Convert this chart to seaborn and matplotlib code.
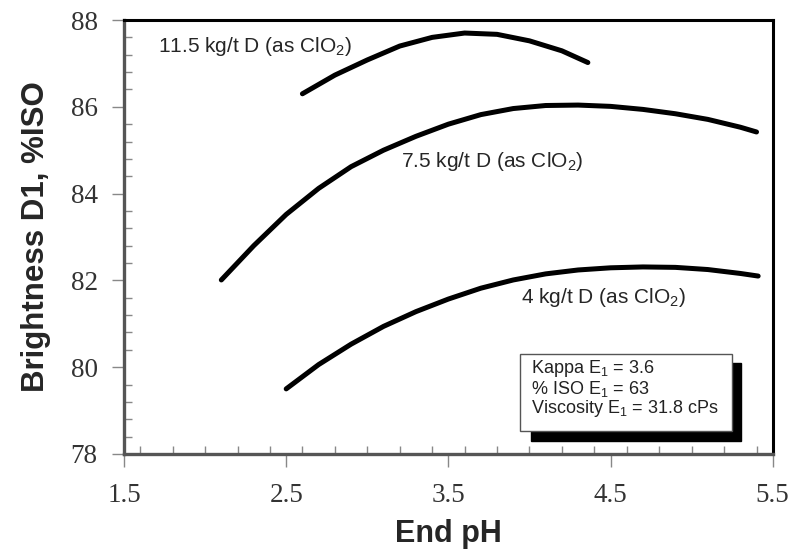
import matplotlib
matplotlib.use("Agg")
import matplotlib.pyplot as plt
from matplotlib.patches import Rectangle
from matplotlib.ticker import MultipleLocator
import numpy as np
import pandas as pd
import seaborn as sns

# Data
ph_115 = [2.60, 2.80, 3.00, 3.20, 3.40, 3.60, 3.80, 4.00, 4.20, 4.36]
br_115 = [86.30, 86.73, 87.08, 87.40, 87.60, 87.70, 87.67, 87.52, 87.29, 87.02]

ph_75 = [2.10, 2.30, 2.50, 2.70, 2.90, 3.10, 3.30, 3.50, 3.70, 3.90,
         4.10, 4.30, 4.50, 4.70, 4.90, 5.10, 5.30, 5.40]
br_75 = [82.01, 82.80, 83.52, 84.12, 84.62, 85.00, 85.32, 85.60, 85.82, 85.96,
         86.03, 86.04, 86.01, 85.94, 85.84, 85.71, 85.53, 85.42]

ph_4 = [2.50, 2.70, 2.90, 3.10, 3.30, 3.50, 3.70, 3.90, 4.10, 4.30,
        4.50, 4.70, 4.90, 5.10, 5.30, 5.41]
br_4 = [79.50, 80.06, 80.53, 80.94, 81.28, 81.57, 81.82, 82.01, 82.15, 82.24,
        82.29, 82.31, 82.30, 82.25, 82.16, 82.10]

series_labels = ["11.5 kg/t D (as ClO$_2$)", "7.5 kg/t D (as ClO$_2$)", "4 kg/t D (as ClO$_2$)"]
x_ticks = [1.5, 2.5, 3.5, 4.5, 5.5]
y_ticks = [78, 80, 82, 84, 86, 88]
box_lines = ["Kappa E$_1$ = 3.6", "% ISO E$_1$ = 63", "Viscosity E$_1$ = 31.8 cPs"]

df = pd.concat([
    pd.DataFrame({"pH": ph_115, "Brightness": br_115, "series": series_labels[0]}),
    pd.DataFrame({"pH": ph_75, "Brightness": br_75, "series": series_labels[1]}),
    pd.DataFrame({"pH": ph_4, "Brightness": br_4, "series": series_labels[2]}),
])

sns.set_style("white")
plt.rcParams["font.family"] = ["Liberation Sans", "DejaVu Sans"]
plt.rcParams["mathtext.fontset"] = "custom"
plt.rcParams["mathtext.rm"] = "Liberation Sans"
plt.rcParams["mathtext.it"] = "Liberation Sans:italic"
plt.rcParams["mathtext.bf"] = "Liberation Sans:bold"
plt.rcParams["mathtext.default"] = "regular"

fig = plt.figure(figsize=(7.95, 5.56), dpi=100)
ax = fig.add_axes([0.156, 0.1835, 0.816, 0.7805])

sns.lineplot(data=df, x="pH", y="Brightness", hue="series",
             palette=["black"] * 3, linewidth=3.6, legend=False, ax=ax,
             estimator=None, sort=True)
for line in ax.get_lines():
    line.set_solid_capstyle("round")
    line.set_solid_joinstyle("round")

ax.set_xlim(1.5, 5.5)
ax.set_ylim(78, 88)
ax.set_xticks(x_ticks)
ax.set_yticks(y_ticks)
ax.set_xticklabels([f"{t:.1f}" for t in x_ticks], family="Liberation Serif", fontsize=19.5, color="#333333")
ax.set_yticklabels([str(t) for t in y_ticks], family="Liberation Serif", fontsize=19.5, color="#333333")
ax.xaxis.set_minor_locator(MultipleLocator(0.2))
ax.yaxis.set_minor_locator(MultipleLocator(0.4))
ax.tick_params(which="major", direction="out", length=9, width=1, color="#888888")
ax.tick_params(which="minor", direction="in", length=6, width=1, color="#888888")
ax.tick_params(axis="x", which="both", bottom=True, top=False)
ax.tick_params(axis="y", which="both", left=True, right=False)
ax.tick_params(axis="x", which="major", pad=12)
ax.tick_params(axis="y", which="major", pad=10)

for side in ["left", "bottom"]:
    ax.spines[side].set_color("#555555")
    ax.spines[side].set_linewidth(2.4)
for side in ["top", "right"]:
    ax.spines[side].set_color("black")
    ax.spines[side].set_linewidth(2.2)

ax.set_xlabel("End pH", fontsize=22, fontweight="bold", labelpad=8)
ax.set_ylabel("Brightness D1, %ISO", fontsize=22.5, fontweight="bold", labelpad=14)

ax.text(1.71, 87.38, series_labels[0], fontsize=15, va="center", ha="left")
ax.text(3.21, 84.73, series_labels[1], fontsize=15, va="center", ha="left")
ax.text(3.95, 81.60, series_labels[2], fontsize=15, va="center", ha="left")

# Info box with shadow (axes fraction)
ax.add_patch(Rectangle((0.627, 0.030), 0.324, 0.180, transform=ax.transAxes,
                       facecolor="black", edgecolor="black", zorder=4))
ax.add_patch(Rectangle((0.611, 0.054), 0.326, 0.176, transform=ax.transAxes,
                       facecolor="white", edgecolor="#555555", linewidth=1.0, zorder=5))
for i, t in enumerate(box_lines):
    ax.text(0.628, 0.196 - i * 0.046, t, transform=ax.transAxes, fontsize=13,
            va="center", ha="left", color="#222222", zorder=6)

fig.savefig("out.png", dpi=100)
